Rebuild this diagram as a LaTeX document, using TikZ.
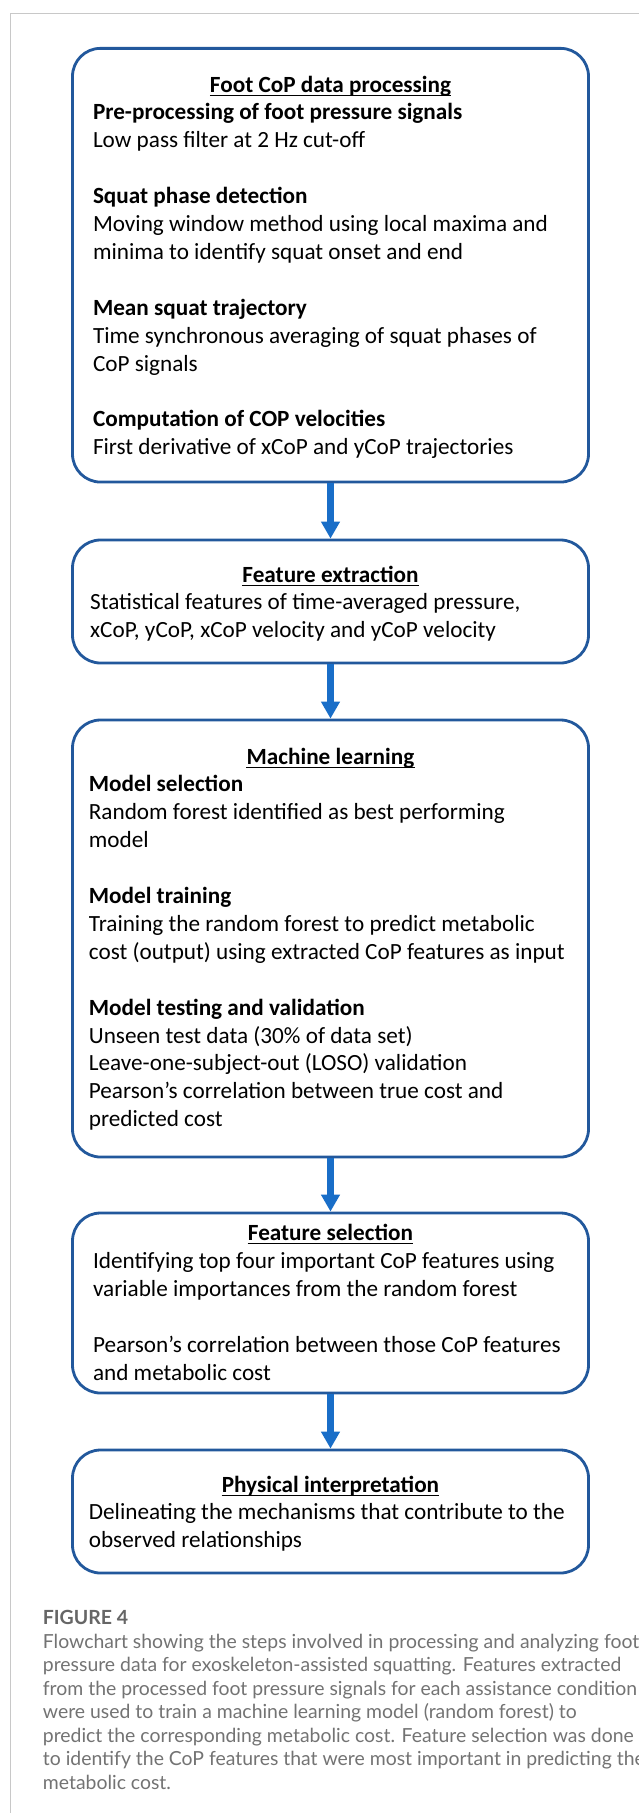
\documentclass[tikz,border=0pt]{standalone}
\usepackage{fontspec}
\setmainfont{Carlito}
\newfontfamily\capfont{Lato}
\usetikzlibrary{arrows.meta}
\definecolor{boxblue}{HTML}{22589C}
\definecolor{arrblue}{RGB}{25,110,200}
\definecolor{framegray}{HTML}{C8C8C8}
\definecolor{capgray}{HTML}{737373}
\definecolor{figgray}{HTML}{666666}
\tikzset{
  stepbox/.style={draw=boxblue, line width=2.8pt, rounded corners=28pt, inner sep=0pt, minimum width=516pt},
  flowarrow/.style={draw=arrblue, line width=6.5pt, -{Triangle[width=18pt,length=17pt]}},
  tx/.style={anchor=base west, inner sep=0pt, font=\fontsize{23.2}{28}\selectfont, text=black},
  hd/.style={tx, font=\fontsize{23.2}{28}\selectfont\bfseries},
  ttl/.style={anchor=base, inner sep=0pt, font=\fontsize{23.2}{28}\selectfont\bfseries, text=black},
  uline/.style={line width=1.4pt, black},
  captx/.style={anchor=base west, inner sep=0pt, font=\capfont\fontsize{19.4}{23.5}\selectfont, text=capgray},
  capfig/.style={anchor=base west, inner sep=0pt, font=\capfont\bfseries\fontsize{19.5}{24}\selectfont, text=figgray}
}
\begin{document}
\begin{tikzpicture}[x=1pt,y=-1pt]
\useasboundingbox (0,0) rectangle (638,1813);
\fill[white] (0,0) rectangle (638,1813);
% frame
\draw[framegray, line width=1.3pt] (10.5,1813) -- (10.5,13.5) -- (640,13.5);

% boxes
\node[stepbox, minimum height=433.7pt] (b1) at (330.5,265.2) {};
\node[stepbox, minimum height=123pt] (b2) at (330.5,601.5) {};
\node[stepbox, minimum height=437pt] (b3) at (330.5,938.5) {};
\node[stepbox, minimum height=180pt] (b4) at (330.5,1303) {};
\node[stepbox, minimum height=123pt] (b5) at (330.5,1511.5) {};

% arrows
\draw[flowarrow] (b1.south) -- (b2.north);
\draw[flowarrow] (b2.south) -- (b3.north);
\draw[flowarrow] (b3.south) -- (b4.north);
\draw[flowarrow] (b4.south) -- (b5.north);

% titles
\node[ttl] (t1) at (330.5,92) {Foot CoP data processing};
\node[ttl] (t2) at (330.5,582) {Feature extraction};
\node[ttl] (t3) at (330.5,764) {Machine learning};
\node[ttl] (t4) at (330.5,1240) {Feature selection};
\node[ttl] (t5) at (330.5,1492) {Physical interpretation};
\foreach \t in {t1,t2,t3,t4,t5}{
  \draw[uline] ([yshift=-3.6pt]\t.base west) -- ([yshift=-3.6pt]\t.base east);
}

% box 1 text
\foreach \k/\st/\txt in {
  1/hd/{Pre-processing of foot pressure signals},
  2/tx/{Low pass filter at 2 Hz cut-off},
  4/hd/{Squat phase detection},
  5/tx/{Moving window method using local maxima and},
  6/tx/{minima to identify squat onset and end},
  8/hd/{Mean squat trajectory},
  9/tx/{Time synchronous averaging of squat phases of},
  10/tx/{CoP signals},
  12/hd/{Computation of COP velocities},
  13/tx/{First derivative of xCoP and yCoP trajectories}}{
  \node[\st] (l1-\k) at (92.8,{92+\k*27.9}) {\txt};
}

% box 2 text
\foreach \k/\st/\txt in {
  1/tx/{Statistical features of time-averaged pressure,},
  2/tx/{xCoP, yCoP, xCoP velocity and yCoP velocity}}{
  \node[\st] (l2-\k) at (90,{582+\k*27.8}) {\txt};
}

% box 3 text
\foreach \k/\st/\txt in {
  1/hd/{Model selection},
  2/tx/{Random forest identified as best performing},
  3/tx/{model},
  5/hd/{Model training},
  6/tx/{Training the random forest to predict metabolic},
  7/tx/{cost (output) using extracted CoP features as input},
  9/hd/{Model testing and validation},
  10/tx/{Unseen test data (30\% of data set)},
  11/tx/{Leave-one-subject-out (LOSO) validation},
  12/tx/{Pearson’s correlation between true cost and},
  13/tx/{predicted cost}}{
  \node[\st] (l3-\k) at (88.7,{764+\k*27.9}) {\txt};
}

% box 4 text
\foreach \k/\st/\txt in {
  1/tx/{Identifying top four important CoP features using},
  2/tx/{variable importances from the random forest},
  4/tx/{Pearson’s correlation between those CoP features},
  5/tx/{and metabolic cost}}{
  \node[\st] (l4-\k) at (92.8,{1240+\k*28}) {\txt};
}

% box 5 text
\foreach \k/\st/\txt in {
  1/tx/{Delineating the mechanisms that contribute to the},
  2/tx/{observed relationships}}{
  \node[\st] (l5-\k) at (88.7,{1492+\k*27.7}) {\txt};
}

% caption
\node[capfig] (fig) at (42.7,1624) {FIGURE 4};
\foreach \k/\txt in {
  0/{Flowchart showing the steps involved in processing and analyzing foot},
  1/{pressure data for exoskeleton-assisted squatting. Features extracted},
  2/{from the processed foot pressure signals for each assistance condition},
  3/{were used to train a machine learning model (random forest) to},
  4/{predict the corresponding metabolic cost. Feature selection was done},
  5/{to identify the CoP features that were most important in predicting the},
  6/{metabolic cost.}}{
  \node[captx] (c-\k) at (42.7,{1648+\k*23.5}) {\txt};
}
\end{tikzpicture}
\end{document}
